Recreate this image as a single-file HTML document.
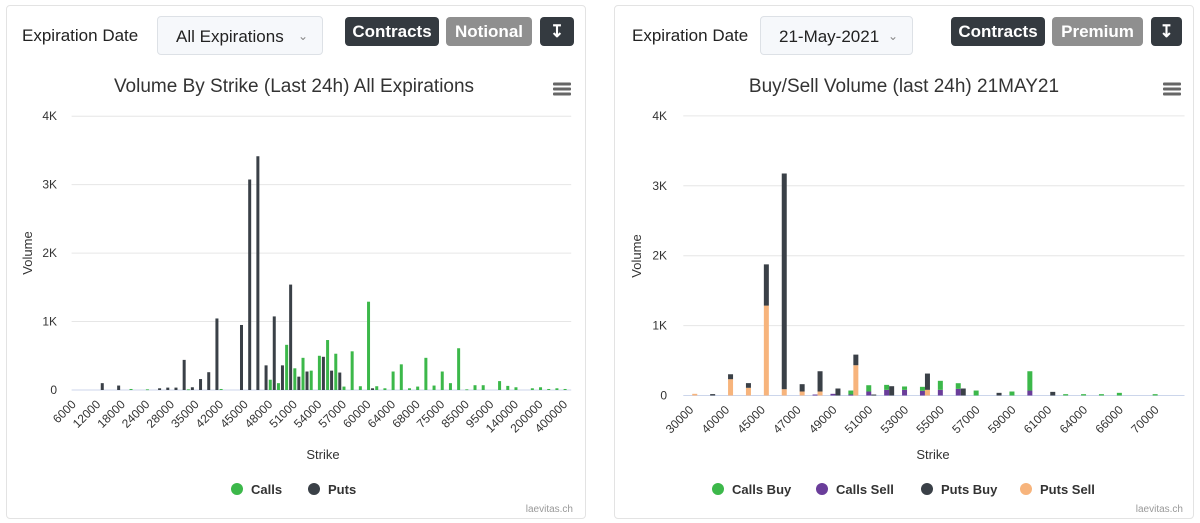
<!DOCTYPE html>
<html><head><meta charset="utf-8">
<style>
body{margin:0;width:1200px;height:523px;background:#fff;font-family:"Liberation Sans",sans-serif;position:relative;overflow:hidden}
.card{position:absolute;top:5px;height:512px;border:1px solid #e3e3e3;border-radius:4px;background:#fff}
.lbl{position:absolute;top:26px;font-size:17px;color:#222}
.dd{position:absolute;top:16px;height:39px;border:1px solid #dde1e6;border-radius:4px;background:#f6f8fb;font-size:17px;color:#222;line-height:39px;box-sizing:border-box;padding-left:18px}
.dd span{position:absolute;right:14px;top:0;color:#888;font-size:12px}
.btn{position:absolute;top:17px;height:29px;border-radius:4px;color:#fff;font-weight:bold;font-size:17px;line-height:29px;text-align:center}
.dark{background:#343a40}.gray{background:#8f8f8f}
svg{position:absolute;left:0;top:0}
</style></head><body>
<div class="card" style="left:6px;width:578px"></div>
<div class="card" style="left:614px;width:578px"></div>

<div class="lbl" style="left:22px">Expiration Date</div>
<div class="dd" style="left:157px;width:166px">All Expirations<span>&#8964;</span></div>
<div class="btn dark" style="left:345px;width:94px">Contracts</div>
<div class="btn gray" style="left:446px;width:86px">Notional</div>
<div class="btn dark" style="left:540px;width:34px">&#8615;</div>

<div class="lbl" style="left:632px">Expiration Date</div>
<div class="dd" style="left:760px;width:153px">21-May-2021<span>&#8964;</span></div>
<div class="btn dark" style="left:951px;width:94px">Contracts</div>
<div class="btn gray" style="left:1052px;width:91px">Premium</div>
<div class="btn dark" style="left:1151px;width:31px">&#8615;</div>

<svg id="s" width="1200" height="523" xmlns="http://www.w3.org/2000/svg" font-family="Liberation Sans, sans-serif"></svg>
<script>
// ---- Left chart data ----
const leftStrikes=[6000,8000,10000,12000,14000,16000,18000,20000,22000,24000,25000,26000,28000,30000,32000,35000,38000,40000,42000,43000,44000,45000,46000,47000,48000,49000,50000,51000,52000,53000,54000,55000,56000,57000,58000,59000,60000,62000,63000,64000,65000,66000,68000,70000,72000,75000,80000,82000,85000,90000,92000,95000,100000,120000,140000,150000,160000,200000,250000,300000,400000];
const leftCalls=[0,0,0,0,0,0,0,15,0,10,0,0,0,0,10,0,0,0,15,0,0,0,0,0,150,100,660,317,470,283,500,730,530,50,565,55,1290,55,25,270,375,25,50,470,65,270,100,610,10,70,70,0,130,60,40,0,25,40,15,25,15];
const leftPuts=[0,0,0,100,0,65,0,0,0,0,25,35,35,440,40,160,260,1045,0,0,950,3075,3415,360,1075,360,1540,195,270,0,485,283,255,0,0,0,25,0,0,0,0,0,0,0,0,0,0,0,0,0,0,0,0,0,0,0,0,0,0,0,0];
const leftTicks=[0,1000,2000,3000,4000];
const leftTickLabels=["0","1K","2K","3K","4K"];
// ---- Right chart data ----
const rightStrikes=[30000,35000,40000,44000,45000,46000,47000,48000,49000,50000,51000,52000,53000,54000,55000,56000,57000,58000,59000,60000,61000,62000,64000,65000,66000,68000,70000,80000];
const callsBuy=[0,0,0,0,0,0,0,0,0,57,90,71,48,57,129,81,71,0,57,276,0,19,19,19,38,0,19,0];
const callsSell=[0,0,0,0,0,0,0,14,24,14,57,81,81,67,81,95,0,0,0,71,0,0,0,0,0,0,0,0];
const putsBuy=[0,20,71,67,590,3086,105,290,100,152,14,133,0,233,0,100,0,38,0,0,52,0,0,0,0,0,0,0];
const putsSell=[24,0,233,110,1286,90,57,57,0,433,0,0,0,81,0,0,0,0,0,0,0,0,0,0,0,0,0,0];
const rightTicks=[0,1000,2000,3000,4000];
const rightTickLabels=["0","1K","2K","3K","4K"];

const S=document.getElementById('s');
const NS='http://www.w3.org/2000/svg';
function mk(tag,attrs,parent){const e=document.createElementNS(NS,tag);for(const k in attrs)e.setAttribute(k,attrs[k]);(parent||S).appendChild(e);return e;}
function txt(x,y,str,attrs){const e=mk('text',Object.assign({x:x,y:y,fill:'#333','font-size':12},attrs||{}));e.textContent=str;return e;}

function chart(cfg){
  const yS=v=>cfg.base-v*cfg.k;
  const g=mk('g',{});
  
  
  cfg.ticks.forEach((t,i)=>{
    const y=yS(t);
    const l=mk('line',{x1:cfg.x0,x2:cfg.x1,y1:y,y2:y,stroke:i==0?'#ccd6eb':'#e6e6e6','stroke-width':1},g);
    
    
    const t2=txt(cfg.yLabX,y+4,cfg.tickLabels[i],{'text-anchor':'end','font-size':12});
    
    
  });
  const w=(cfg.x1-cfg.x0)/cfg.cats.length;
  const xC=i=>cfg.x0+(i+0.5)*w;
  cfg.cats.forEach((c,i)=>{
    if(i%cfg.every===0){
      const x=xC(i)+cfg.labOff,y=cfg.base+15;
      const t=txt(x,y,String(c),{'text-anchor':'end','font-size':12,fill:'#333',transform:`rotate(-45 ${x} ${y})`});
      
      
    }
  });
  cfg.stacks.forEach(st=>{
    cfg.cats.forEach((c,i)=>{
      let acc=0;
      st.series.slice().reverse().forEach(se=>{
        const v=se.data[i];if(!v)return;
        const y0=yS(acc),y1=yS(acc+v);acc+=v;
        const r=mk('rect',{x:xC(i)+st.off-st.bw/2,y:y1,width:st.bw,height:Math.max(0.8,y0-y1),fill:se.color},g);
        
        
      });
    });
  });
}

chart({name:'volume-by-strike',cats:leftStrikes,x0:71.6,x1:571.2,base:390,k:0.06845,ticks:leftTicks,tickLabels:leftTickLabels,yLabX:57,every:3,labOff:1,
  stacks:[{off:-2,bw:3,series:[{key:'calls',color:'#3cb84a',data:leftCalls}]},{off:2,bw:3,series:[{key:'puts',color:'#3a4047',data:leftPuts}]}]});
chart({name:'buy-sell-volume',cats:rightStrikes,x0:683.3,x1:1184.5,base:395.5,k:0.0699,ticks:rightTicks,tickLabels:rightTickLabels,yLabX:667,every:2,labOff:2,
  stacks:[{off:-2.5,bw:5,series:[{key:'calls-buy',color:'#3cb84a',data:callsBuy},{key:'calls-sell',color:'#6a3d9a',data:callsSell}]},
          {off:2.5,bw:5,series:[{key:'puts-buy',color:'#3a4047',data:putsBuy},{key:'puts-sell',color:'#f7b47c',data:putsSell}]}]});

function label(x,y,s,name,a){const t=txt(x,y,s,a);return t;}
label(294,92,'Volume By Strike (Last 24h) All Expirations','chart-title',{'text-anchor':'middle','font-size':19,fill:'#333'});
label(904,92,'Buy/Sell Volume (last 24h) 21MAY21','chart-title-2',{'text-anchor':'middle','font-size':19,fill:'#333'});
label(32,253,'Volume','y-axis-title',{'text-anchor':'middle','font-size':13,fill:'#333',transform:'rotate(-90 32 253)'});
label(641,256,'Volume','y-axis-title-2',{'text-anchor':'middle','font-size':13,fill:'#333',transform:'rotate(-90 641 256)'});
label(323,459,'Strike','x-axis-title',{'text-anchor':'middle','font-size':13,fill:'#333'});
label(933,459,'Strike','x-axis-title-2',{'text-anchor':'middle','font-size':13,fill:'#333'});
label(573,512,'laevitas.ch','credits',{'text-anchor':'end','font-size':10,fill:'#999'});
label(1183,512,'laevitas.ch','credits-2',{'text-anchor':'end','font-size':10,fill:'#999'});
[[562,89],[1172,89]].forEach((p,j)=>{
  const g=mk('g',{});
  
  
  for(let i=-1;i<=1;i++)mk('rect',{x:p[0]-9,y:p[1]+i*5-1.5,width:18,height:3,fill:'#666',rx:1},g);
});
const legend=[[237,'Calls','#3cb84a'],[314,'Puts','#3a4047'],[718,'Calls Buy','#3cb84a'],[822,'Calls Sell','#6a3d9a'],[927,'Puts Buy','#3a4047'],[1026,'Puts Sell','#f7b47c']];
legend.forEach(l=>{
  const g=mk('g',{});
  
  
  mk('circle',{cx:l[0],cy:489,r:6,fill:l[2]},g);
  const t=mk('text',{x:l[0]+14,y:494,'font-size':13,'font-weight':'bold',fill:'#333'},g);t.textContent=l[1];
});
</script>
</body></html>
